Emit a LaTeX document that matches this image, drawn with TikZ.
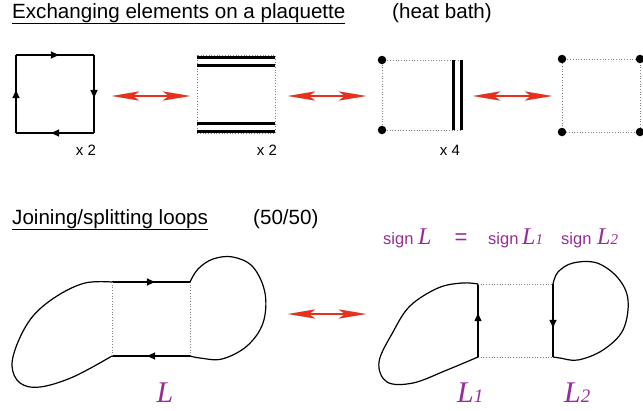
\documentclass[tikz,border=0pt]{standalone}
\usepackage{fontspec}
\setmainfont{Liberation Sans}
\newfontfamily\serifa{Liberation Serif}
\usepackage{tikz}
\usetikzlibrary{arrows.meta, decorations.markings, positioning, calc}

% L maiusculo em italico com indice
\newcommand{\Lind}[2][16]{{\serifa\itshape L{\fontsize{#1}{#1}\selectfont #2}}}

\begin{document}
\begin{tikzpicture}[x=1pt, y=-1pt,
  elo/.style={line width=1.4pt},
  curva/.style={line width=1.2pt, line join=round},
  fio/.style={dotted, line width=0.7pt, color=gray},
  grosso/.style={line width=3pt},
  ponto/.style={circle, fill=black, inner sep=0pt, minimum size=8.5pt},
  meio/.style={postaction=decorate, decoration={markings,
    mark=at position #1 with {\arrow{Triangle[length=8pt, width=7pt]}}}},
  troca/.style={{Stealth[length=27pt, width=9pt, inset=6pt]}-{Stealth[length=27pt, width=9pt, inset=6pt]}, line width=2pt},
  titulo/.style={anchor=base west, inner sep=0pt, font=\fontsize{20.6}{24}\selectfont},
  fator/.style={anchor=base, font=\fontsize{15}{17}\selectfont},
  roxa/.style={anchor=base west, text=roxo, font=\fontsize{16.5}{20}\selectfont, inner sep=0pt},
  letra/.style={anchor=base west, text=roxo, font=\fontsize{24}{28}\selectfont, inner sep=0pt},
  rotulo/.style={anchor=base west, text=roxo, font=\fontsize{30}{32}\selectfont, inner sep=0pt}]
% --- TROCA DE ELEMENTOS E LACOS ---
\definecolor{vermelho}{HTML}{E8301C}
\definecolor{roxo}{HTML}{962C98}
\useasboundingbox (0,0) rectangle (643,410);

% LAYER 1: Titulos
\node[titulo] (tit1) at (12,18) {\underline{Exchanging elements on a plaquette}};
\node[titulo] (banho) at (392,18) {(heat bath)};
\node[titulo] (tit2) at (12,224) {\underline{Joining/splitting loops}};
\node[titulo] (meio50) at (253,224) {(50/50)};

% LAYER 2: Plaqueta orientada
\coordinate (a1) at (16,55); \coordinate (b1) at (94,55);
\coordinate (c1) at (94,133); \coordinate (d1) at (16,133);
\draw[elo, meio=0.55] (a1) -- (b1);
\draw[elo, meio=0.55] (b1) -- (c1);
\draw[elo, meio=0.55] (c1) -- (d1);
\draw[elo, meio=0.55] (d1) -- (a1);
\node[fator] (x1) at (86,155) {x 2};

% LAYER 3: Plaqueta com linhas duplas
\coordinate (a2) at (197,55); \coordinate (c2) at (275,133);
\draw[fio] (a2) rectangle (c2);
\draw[grosso] (197,57.5) -- (275,57.5);
\draw[grosso] (197,65) -- (275,65);
\draw[grosso] (197,123.5) -- (275,123.5);
\draw[grosso] (197,131) -- (275,131);
\node[fator] (x2) at (267,155) {x 2};

% LAYER 4: Plaqueta com pontos e linha dupla vertical
\coordinate (a3) at (382,60); \coordinate (b3) at (461,60);
\coordinate (c3) at (461,130); \coordinate (d3) at (382,130);
\draw[fio] (b3) -- (a3) -- (d3) -- (c3);
\draw[grosso] (453.5,60) -- (453.5,130);
\draw[grosso] (b3) -- (c3);
\node[ponto] (p3a) at (a3) {};
\node[ponto] (p3d) at (d3) {};
\node[fator] (x3) at (450,155) {x 4};

% LAYER 5: Plaqueta vazia
\coordinate (a4) at (562,59); \coordinate (b4) at (640,59);
\coordinate (c4) at (640,132); \coordinate (d4) at (562,132);
\draw[fio] (a4) -- (b4) -- (c4) -- (d4) -- cycle;
\foreach \c in {a4,b4,c4,d4} \node[ponto] (p\c) at (\c) {};

% LAYER 6: Setas de troca (com sombra)
\coordinate (s1a) at (112,96); \coordinate (s1b) at (190,96);
\coordinate (s2a) at (288,96); \coordinate (s2b) at (366,96);
\coordinate (s3a) at (473,96); \coordinate (s3b) at (552,96);
\coordinate (s4a) at (288,314); \coordinate (s4b) at (366,314);
\foreach \p/\q in {s1a/s1b, s2a/s2b, s3a/s3b, s4a/s4b} {
  \draw[troca, color=black!30, shift={(2.5,3.5)}] (\p) -- (\q);
  \draw[troca, color=black!15, shift={(4.5,5.5)}] (\p) -- (\q);
  \draw[troca, color=vermelho] (\p) -- (\q);
}

% LAYER 7: Laco L
\coordinate (e1) at (112,282); \coordinate (e2) at (190,282);
\coordinate (e3) at (190,356); \coordinate (e4) at (112,356);
\draw[elo, meio=0.55] (e1) -- (e2);
\draw[elo, meio=0.55] (e3) -- (e4);
\draw[fio] (e1) -- (e4);
\draw[fio] (e2) -- (e3);
\draw[curva] plot[smooth, tension=0.6] coordinates {(112,282) (85,283) (57,296) (33,316) (18,342) (12,366) (20,383) (40,387) (73,377) (112,356)};
\draw[curva] plot[smooth, tension=0.6] coordinates {(190,282) (198,269) (213,259) (233,257) (253,267) (265,293) (263,323) (247,346) (222,359) (200,358) (190,356)};
\node[rotulo, anchor=base] (nomeL) at (165,402) {\Lind{}};

% LAYER 8: Lacos L1 e L2
\coordinate (f1) at (478,284); \coordinate (f2) at (553,284);
\coordinate (f3) at (553,357); \coordinate (f4) at (478,357);
\draw[elo, meio=0.6] (f4) -- (f1);
\draw[elo, meio=0.6] (f2) -- (f3);
\draw[fio] (f1) -- (f2);
\draw[fio] (f4) -- (f3);
\draw[curva] plot[smooth, tension=0.6] coordinates {(478,284) (462,283) (438,288) (410,306) (393,332) (379,362) (387,382) (413,383) (447,370) (478,357)};
\draw[curva] plot[smooth, tension=0.6] coordinates {(553,284) (558,272) (573,263) (597,263) (618,278) (628,300) (623,330) (603,350) (578,360) (560,358) (553,357)};
\node[rotulo] (nomeL1) at (457,402) {\Lind[19]{1}};
\node[rotulo] (nomeL2) at (564,402) {\Lind[19]{2}};

% LAYER 9: Regra do sinal
\node[roxa] (sinal) at (383,244) {sign};
\node[letra] (sinalL) at (418,244) {\Lind{}};
\node[roxa, anchor=base, font=\fontsize{22}{24}\selectfont] (igual) at (461,244) {=};
\node[roxa] (sinal1) at (488,244) {sign};
\node[letra] (sinalL1) at (522,244) {\Lind[15]{1}};
\node[roxa] (sinal2) at (561,244) {sign};
\node[letra] (sinalL2) at (597,244) {\Lind[15]{2}};
\end{tikzpicture}
\end{document}
